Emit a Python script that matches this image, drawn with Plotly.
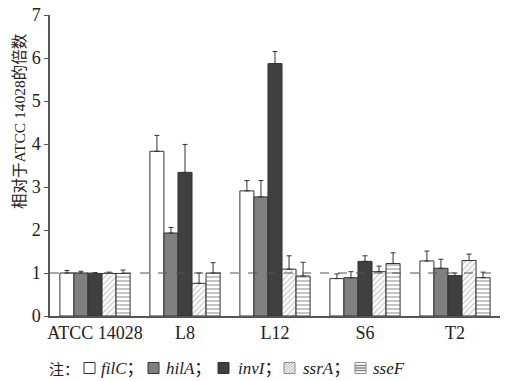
import plotly.graph_objects as go

categories = ["ATCC 14028", "L8", "L12", "S6", "T2"]
genes = ["filC", "hilA", "invI", "ssrA", "sseF"]
values = {
    "filC": [1.00, 3.83, 2.91, 0.87, 1.28],
    "hilA": [1.00, 1.93, 2.77, 0.89, 1.11],
    "invI": [0.99, 3.34, 5.87, 1.27, 0.94],
    "ssrA": [0.99, 0.76, 1.09, 1.03, 1.29],
    "sseF": [0.99, 1.00, 0.93, 1.22, 0.89],
}
errors = {
    "filC": [0.06, 0.37, 0.24, 0.11, 0.23],
    "hilA": [0.04, 0.13, 0.38, 0.14, 0.21],
    "invI": [0.02, 0.65, 0.28, 0.13, 0.06],
    "ssrA": [0.03, 0.24, 0.31, 0.13, 0.15],
    "sseF": [0.08, 0.24, 0.32, 0.25, 0.13],
}
ytitle = "相对于ATCC 14028的倍数"
legend_prefix = "注："

styles = {
    "filC": dict(color="white", pattern=None),
    "hilA": dict(color="#808080", pattern=None),
    "invI": dict(color="#404040", pattern=None),
    "ssrA": dict(color="white", pattern=dict(shape="/", fgcolor="#9a9a9a", bgcolor="white", size=4, solidity=0.35)),
    "sseF": dict(color="white", pattern=dict(shape="-", fgcolor="#8a8a8a", bgcolor="white", size=4, solidity=0.5)),
}

W, H = 512, 381
L, R, T, B = 50, 12, 15, 65
PW, PH = W - L - R, H - T - B

def px(x):
    return (x - L) / PW

def py(y):
    return (H - B - y) / PH

fig = go.Figure()
for g in genes:
    st = styles[g]
    marker = dict(color=st["color"], line=dict(color="#333333", width=1))
    if st["pattern"]:
        marker["pattern"] = st["pattern"]
    fig.add_trace(go.Bar(
        x=categories, y=values[g], name=g, showlegend=False,
        marker=marker,
        error_y=dict(type="data", array=errors[g], arrayminus=[0]*5, symmetric=False,
                     color="#333333", thickness=1, width=2.5),
    ))

fig.add_shape(type="line", xref="paper", yref="y", x0=0, x1=1, y0=1, y1=1,
              line=dict(color="#555555", width=1.2, dash="dash"))

font_fam = "Liberation Serif, Noto Sans CJK SC, serif"
fig.add_annotation(text=ytitle, textangle=-90, xref="paper", yref="paper",
                   x=px(20), y=py(121), xanchor="center", yanchor="middle", showarrow=False,
                   font=dict(family=font_fam, size=15.5, color="#222222"))

# manual legend
ly = 368
fig.add_annotation(text=legend_prefix, xref="paper", yref="paper", x=px(47), y=py(ly),
                   xanchor="left", yanchor="middle", showarrow=False,
                   font=dict(family="Noto Sans CJK SC", size=15, color="#222222"))
box_x = [84, 148, 218, 284, 355]
text_x = [99, 164, 236, 301, 371]
bs = 11
for i, g in enumerate(genes):
    x0, x1 = box_x[i], box_x[i] + bs
    y0, y1 = ly - bs / 2, ly + bs / 2
    st = styles[g]
    fill = st["color"]
    border = "#333333" if g in ("filC", "hilA", "invI") else "#888888"
    fig.add_shape(type="rect", xref="paper", yref="paper",
                  x0=px(x0), x1=px(x1), y0=py(y1), y1=py(y0),
                  fillcolor=fill, line=dict(color=border, width=1))
    if g == "ssrA":
        for d in range(-bs + 3, bs, 3):
            u0 = max(0, -d)
            u1 = min(bs, bs - d)
            if u1 <= u0:
                continue
            fig.add_shape(type="line", xref="paper", yref="paper",
                          x0=px(x0 + u0 + d), y0=py(y1 - u0),
                          x1=px(x0 + u1 + d), y1=py(y1 - u1),
                          line=dict(color="#999999", width=1))
    if g == "sseF":
        for k in (3, 5.5, 8):
            fig.add_shape(type="line", xref="paper", yref="paper",
                          x0=px(x0), x1=px(x1), y0=py(y0 + k), y1=py(y0 + k),
                          line=dict(color="#888888", width=1.5))
    label = f"<i>{g}</i>" + ("；" if i < len(genes) - 1 else "")
    fig.add_annotation(text=label, xref="paper", yref="paper", x=px(text_x[i]), y=py(ly),
                       xanchor="left", yanchor="middle", showarrow=False,
                       font=dict(family=font_fam, size=17, color="#222222"))

fig.update_layout(
    width=W, height=H,
    margin=dict(l=L, r=R, t=T, b=B, autoexpand=False),
    plot_bgcolor="white", paper_bgcolor="white",
    barmode="group", bargap=0.22, bargroupgap=0,
    font=dict(family=font_fam, size=18, color="#222222"),
    showlegend=False,
    xaxis=dict(showline=True, linecolor="#555555", linewidth=1.5, ticks="",
               tickfont=dict(size=18), showgrid=False),
    yaxis=dict(range=[0, 7], dtick=1, showline=True, linecolor="#555555", linewidth=1.5,
               ticks="outside", ticklen=4, tickcolor="#555555", showgrid=False, zeroline=False,
               tickfont=dict(size=18)),
)

fig.write_html("out.html", config={"displayModeBar": False},
               post_script="document.body.style.margin='0';")
